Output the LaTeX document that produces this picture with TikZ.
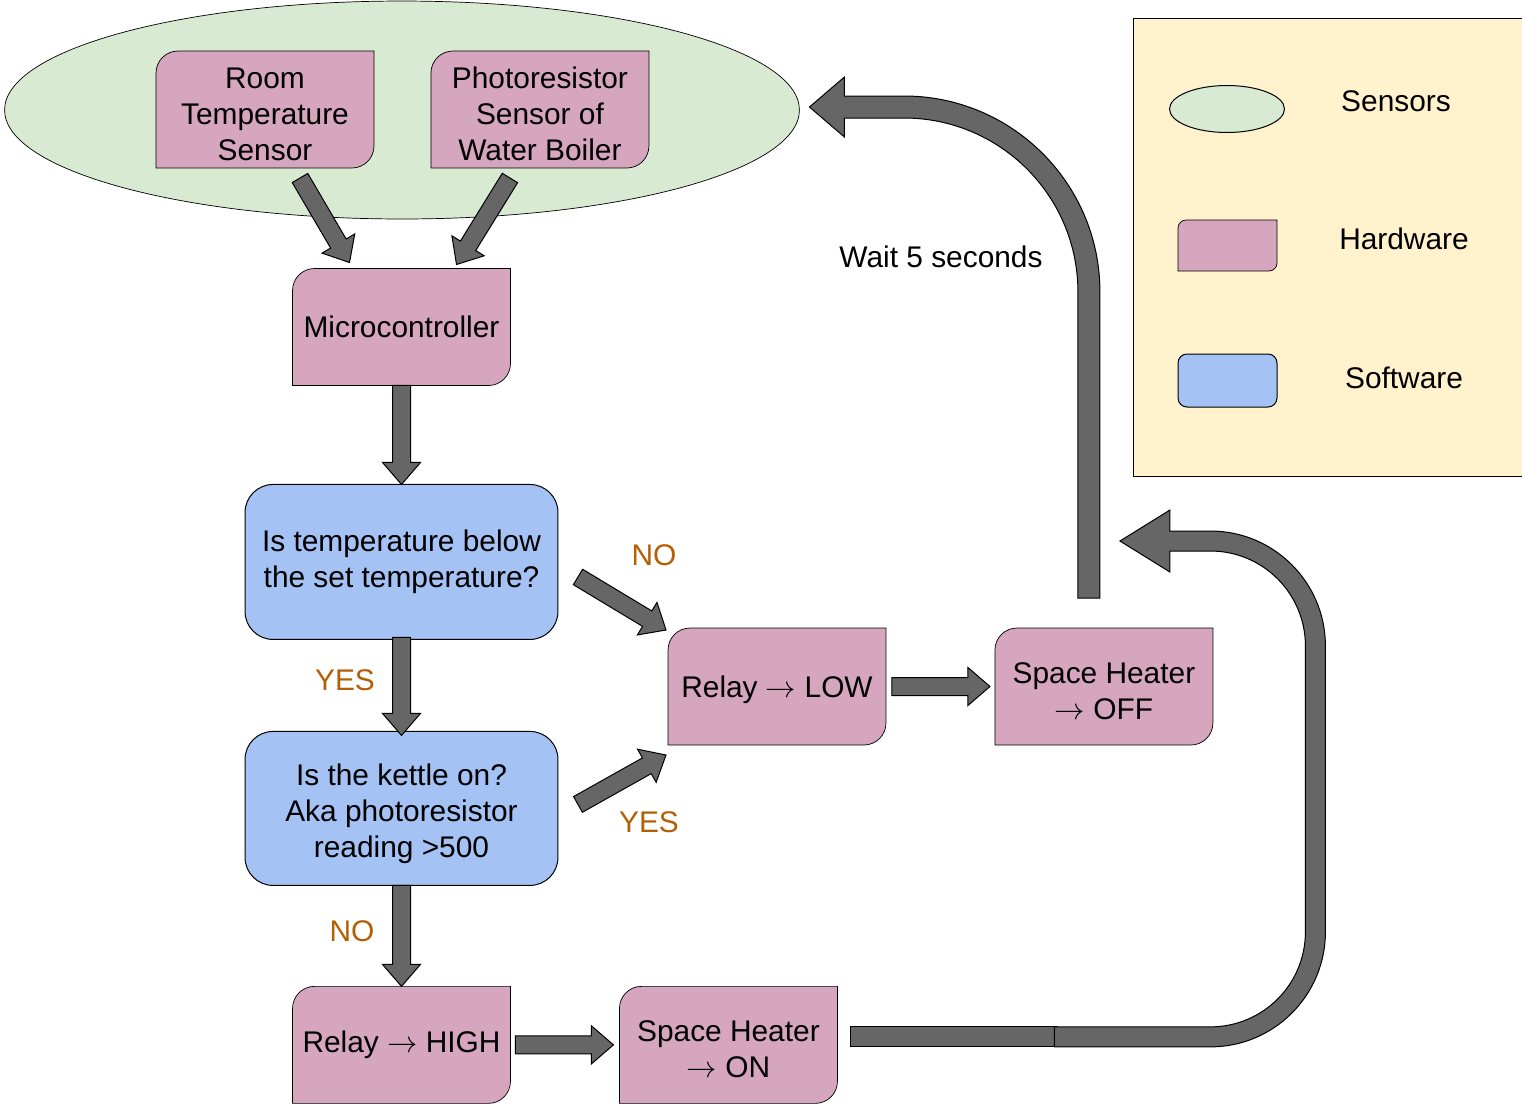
\documentclass[tikz,border=0pt]{standalone}
\usepackage{fontspec}
\setmainfont{Liberation Sans}
\usetikzlibrary{positioning,calc,shapes.geometric,backgrounds}

\definecolor{hwpink}{HTML}{D5A6BD}
\definecolor{swblue}{HTML}{A4C2F4}
\definecolor{sensgreen}{HTML}{D9EAD3}
\definecolor{legendbg}{HTML}{FFF2CC}
\definecolor{arrowgray}{HTML}{666666}
\definecolor{labelorange}{HTML}{B45F06}

% straight block arrow from #1 to #2
\newcommand{\blockarrow}[2]{%
  \path #1 coordinate (ba) #2 coordinate (bb);
  \path ($(bb)!0.44cm!(ba)$) coordinate (bh);
  \filldraw[flow] ($(ba)!0.18cm!90:(bb)$) -- ($(bh)!0.18cm!90:(bb)$) -- ($(bh)!0.38cm!90:(bb)$) -- (bb)
    -- ($(bh)!0.38cm!-90:(bb)$) -- ($(bh)!0.18cm!-90:(bb)$) -- ($(ba)!0.18cm!-90:(bb)$) -- cycle;}

% hardware box: two diagonal corners rounded
\newcommand{\hwbox}[2][0.44cm]{%
  \filldraw[hwshape] (#2.west) -- ([yshift=-#1]#2.north west) arc[start angle=180, end angle=90, radius=#1]
    -- (#2.north east) -- ([yshift=#1]#2.south east) arc[start angle=0, end angle=-90, radius=#1]
    -- (#2.south west) -- cycle;}

% strut that moves multi-line text a little down
\newcommand{\tstrut}[1][0.6cm]{\rule{0pt}{#1}}

\begin{document}
\begin{tikzpicture}[x=0.02cm, y=-0.02cm, line width=0.02cm,
  every node/.style={font=\fontsize{17}{20.5}\selectfont, outer sep=0pt, inner sep=0pt},
  hw/.style={minimum width=4.36cm, minimum height=2.34cm, align=center},
  hwshape/.style={fill=hwpink, draw=black},
  sw/.style={draw, fill=swblue, rounded corners=0.56cm, minimum width=6.26cm, align=center},
  sensor/.style={draw, fill=sensgreen, ellipse},
  flow/.style={fill=arrowgray, draw=black},
  yesno/.style={text=labelorange}]
	\useasboundingbox (0,0) rectangle (1522,1110);

	\node[hw] (room) at (265,109.5) {\tstrut Room\\Temperature\\Sensor};
	\node[hw] (photo) [right=1.14cm of room] {\tstrut Photoresistor\\Sensor of\\Water Boiler};
	\node[hw] (micro) at (401.5,327) {Microcontroller};
	\node[sw, minimum height=3.1cm] (dec1) [below=1.98cm of micro] {Is temperature below\\the set temperature?};
	\node[sw, minimum height=3.08cm] (dec2) [below=1.84cm of dec1] {\tstrut[0.64cm]Is the kettle on?\\Aka photoresistor\\reading >500};
	\node[hw] (high) [below=2.02cm of dec2] {Relay $\rightarrow$ HIGH};
	\node[hw] (on) [right=2.18cm of high] {\tstrut Space Heater\\\(\rightarrow\) ON};
	\node[hw] (low) at (777,686.5) {\tstrut[0.56cm]Relay \(\rightarrow\) LOW};
	\node[hw] (off) [right=2.18cm of low] {\tstrut Space Heater\\\(\rightarrow\) OFF};

	\node[yesno] (no1) at (654,555) {NO};
	\node[yesno] (yes1) at (345,680) {YES};
	\node[yesno] (yes2) at (649,822) {YES};
	\node[yesno] (no2) at (352,931) {NO};
	\node (wait) at (941,257) {Wait 5 seconds};

	% legend
	\node[sensor, minimum width=2.3cm, minimum height=0.94cm] (legsens) at (1227,109) {};
	\node[hw, minimum width=1.98cm, minimum height=1.02cm] (leghw) at (1227.5,245.5) {};
	\node[sw, rounded corners=0.18cm, minimum width=1.98cm, minimum height=1.06cm] (legsw) at (1227.5,380.5) {};
	\node (legsenstxt) at (1396,101) {Sensors};
	\node (leghwtxt) at (1404,239) {Hardware};
	\node (legswtxt) at (1404,378) {Software};

	\begin{scope}[on background layer]
		\node[sensor, minimum width=15.9cm, minimum height=4.36cm] (sensors) at (402,110) {};
		\node[draw, fill=legendbg, minimum width=7.78cm, minimum height=9.16cm] (legend) at (1327.5,247) {};
		\hwbox{room} \hwbox{photo} \hwbox{micro} \hwbox{low}
		\hwbox{off} \hwbox{high} \hwbox{on}
		\hwbox[0.16cm]{leghw}
	\end{scope}

	\blockarrow{([shift={(35,10)}]room.south)}{([shift={(-52,-6)}]micro.north)}
	\blockarrow{([shift={(-30,10)}]photo.south)}{([shift={(55,-4)}]micro.north)}
	\blockarrow{(micro.south)}{(dec1.north)}
	\blockarrow{([shift={(0,-2)}]dec1.south)}{([shift={(0,4)}]dec2.north)}
	\blockarrow{(dec2.south)}{(high.north)}
	\blockarrow{([shift={(20,15)}]dec1.east)}{([shift={(-2,2)}]low.north west)}
	\blockarrow{([shift={(20,-4)}]dec2.east)}{([shift={(-2,10)}]low.south west)}
	\blockarrow{([shift={(6,0)}]low.east)}{([shift={(-5,0)}]off.west)}
	\blockarrow{([shift={(5,0)}]high.east)}{([shift={(-6,0)}]on.west)}

	% loop back: heater off -> sensors
	\coordinate (c9a) at ($(off.north)+(-15,-30)$);
	\coordinate (c9b) at ($(sensors.east)+(10,-3)$);
	\filldraw[flow] ($(c9a)+(-11,0)$) [rounded corners=3.48cm] -- ($(c9a |- c9b)+(-11,11)$) [sharp corners]
		-- ($(c9b)+(35,11)$) -- ($(c9b)+(35,30)$) -- (c9b) -- ($(c9b)+(35,-30)$) -- ($(c9b)+(35,-11)$)
		[rounded corners=3.92cm] -- ($(c9a |- c9b)+(11,-11)$) [sharp corners] -- ($(c9a)+(11,0)$) -- cycle;

	% loop back: heater on -> wait
	\coordinate (c10a) at ($(on.east)+(13,-8)$);
	\coordinate (c10m) at ($(c10a)+(207,0)$);
	\coordinate (c10c) at ($(c10m)+(258,0)$);
	\coordinate (c10b) at ($(c9a)+(31,-57)$);
	\filldraw[flow] ($(c10a)+(0,-10)$) rectangle ($(c10m)+(0,10)$);
	\filldraw[flow] ($(c10m)+(-3,-10)$) [rounded corners=1.9cm] -- ($(c10c)+(-10,-10)$) -- ($(c10c |- c10b)+(-10,10)$)
		[sharp corners] -- ($(c10b)+(50,10)$) -- ($(c10b)+(50,31)$) -- (c10b) -- ($(c10b)+(50,-31)$) -- ($(c10b)+(50,-10)$)
		[rounded corners=2.3cm] -- ($(c10c |- c10b)+(10,-10)$) -- ($(c10c)+(10,10)$) [sharp corners] -- ($(c10m)+(-3,10)$) -- cycle;

\end{tikzpicture}
\end{document}
